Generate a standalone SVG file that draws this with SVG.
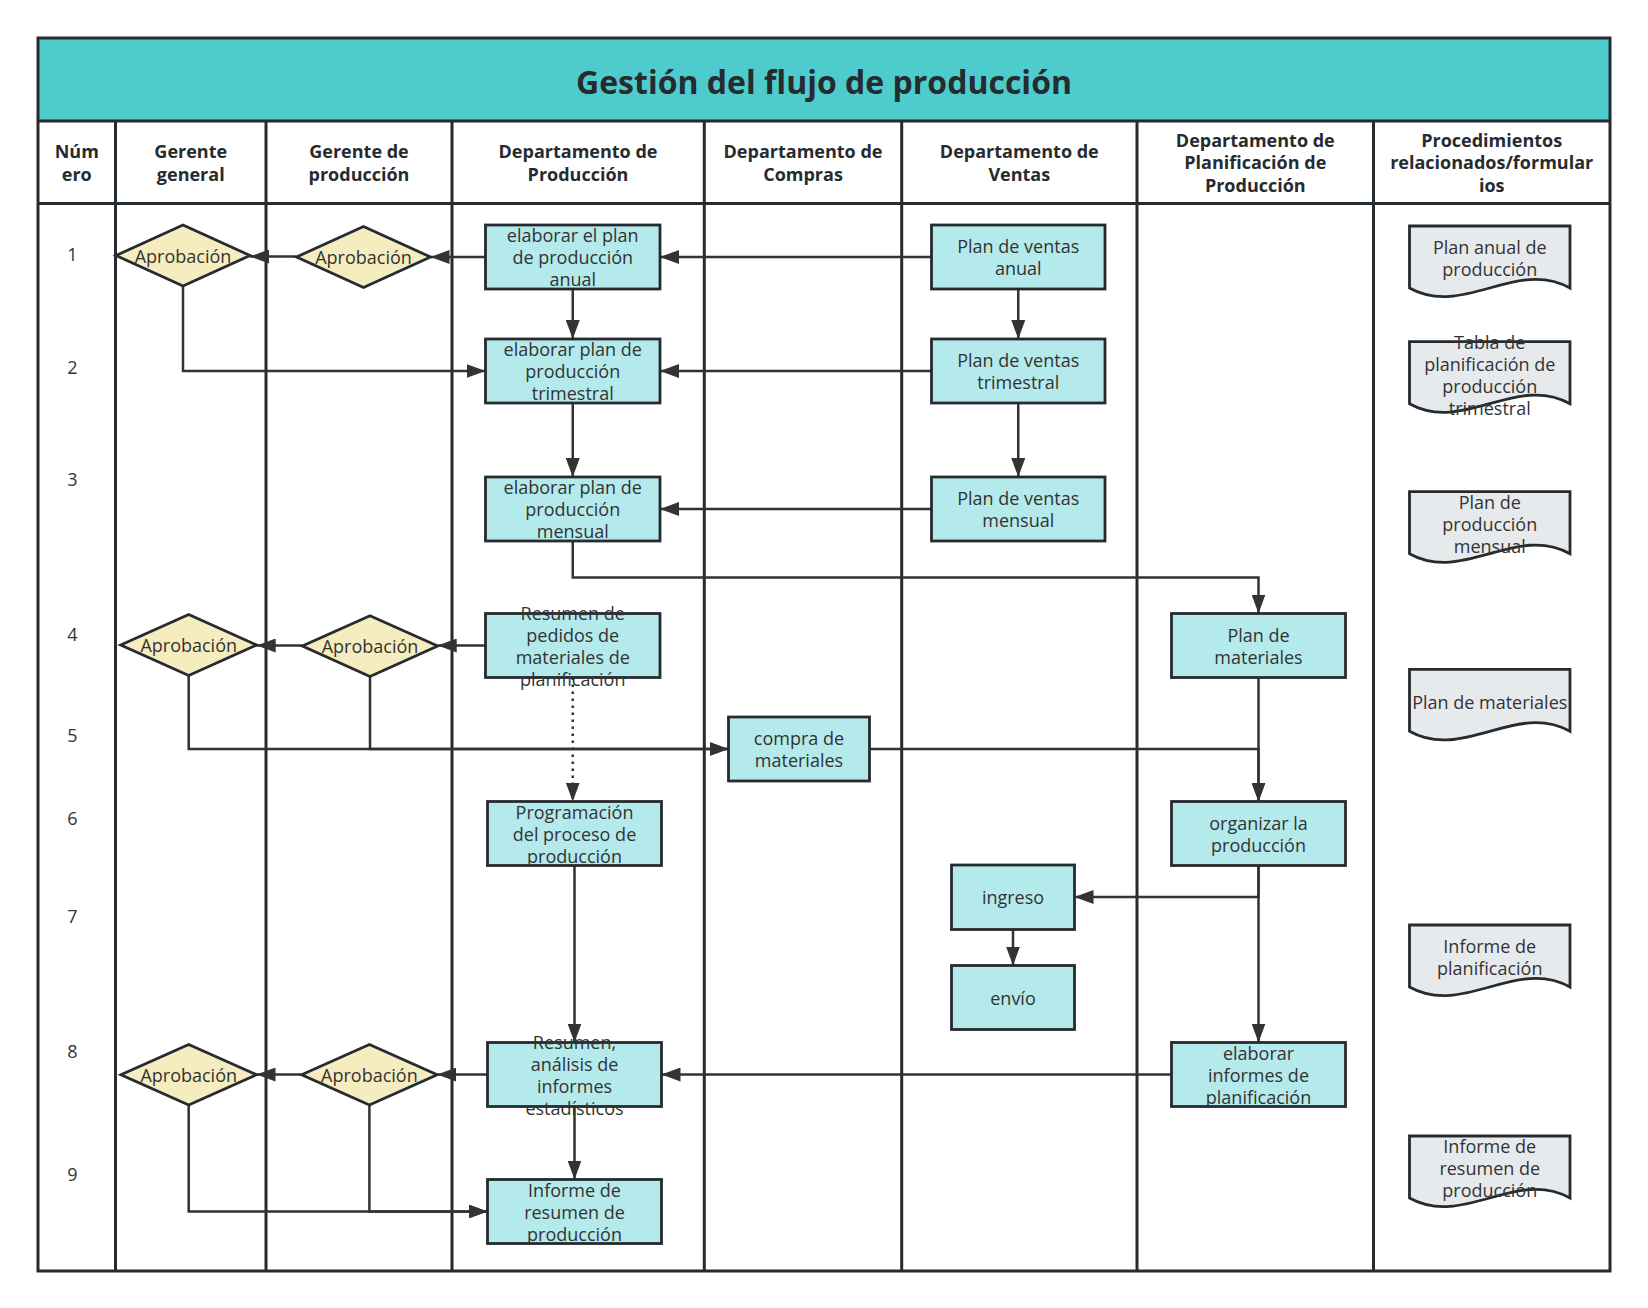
<svg xmlns="http://www.w3.org/2000/svg" width="1648" height="1308" viewBox="0 0 1648 1308">
<style>
.lane{stroke:#262B2F;stroke-width:3;fill:none}
.box{fill:#B4EAEB;stroke:#262B2F;stroke-width:2.8}
.dia{fill:#F5ECC0;stroke:#262B2F;stroke-width:2.8}
.doc{fill:#E6EAED;stroke:#262B2F;stroke-width:2.8}
text,tspan{font-family:"Open Sans","Noto Sans",sans-serif;font-size:18px;fill:#333333;text-anchor:middle;dominant-baseline:central}
.h,.h tspan{font-weight:bold;font-size:18px;fill:#262B2F}
.ttl{font-weight:bold;font-size:32px;fill:#262B2F}
.c{stroke:#333333;stroke-width:2.5;fill:none;marker-end:url(#ah)}
.d{stroke:#333333;stroke-width:2.5;fill:none;stroke-dasharray:2.5 4.5;marker-end:url(#ah)}
</style>
<defs>
<marker id="ah" markerUnits="userSpaceOnUse" markerWidth="20" markerHeight="14" refX="19" refY="7" orient="auto"><path d="M0,0 L19,7 L0,14 z" fill="#333333"/></marker>
</defs>
<rect width="1648" height="1308" fill="#ffffff"/>
<g id="frame">
<rect x="38" y="38" width="1572" height="83" fill="#4ECBCD"/>
<text class="ttl" x="824" y="81">Gestión del flujo de producción</text>
<rect class="lane" x="38" y="38" width="1572" height="1233"/>
<line class="lane" x1="38" y1="121" x2="1610" y2="121"/>
<line class="lane" x1="38" y1="203.5" x2="1610" y2="203.5"/>
<line class="lane" x1="115.5" y1="121" x2="115.5" y2="1271"/>
<line class="lane" x1="266" y1="121" x2="266" y2="1271"/>
<line class="lane" x1="452" y1="121" x2="452" y2="1271"/>
<line class="lane" x1="704.3" y1="121" x2="704.3" y2="1271"/>
<line class="lane" x1="901.7" y1="121" x2="901.7" y2="1271"/>
<line class="lane" x1="1137" y1="121" x2="1137" y2="1271"/>
<line class="lane" x1="1373.5" y1="121" x2="1373.5" y2="1271"/>
</g>
<g id="headers">
<text class="h"><tspan x="76.75" y="151">Núm</tspan><tspan x="76.75" y="173.5">ero</tspan></text>
<text class="h"><tspan x="190.75" y="151">Gerente</tspan><tspan x="190.75" y="173.5">general</tspan></text>
<text class="h"><tspan x="359" y="151">Gerente de</tspan><tspan x="359" y="173.5">producción</tspan></text>
<text class="h"><tspan x="578" y="151">Departamento de</tspan><tspan x="578" y="173.5">Producción</tspan></text>
<text class="h"><tspan x="803" y="151">Departamento de</tspan><tspan x="803" y="173.5">Compras</tspan></text>
<text class="h"><tspan x="1019.3" y="151">Departamento de</tspan><tspan x="1019.3" y="173.5">Ventas</tspan></text>
<text class="h"><tspan x="1255.3" y="139.5">Departamento de</tspan><tspan x="1255.3" y="162">Planificación de</tspan><tspan x="1255.3" y="184.5">Producción</tspan></text>
<text class="h"><tspan x="1491.7" y="139.5">Procedimientos</tspan><tspan x="1491.7" y="162">relacionados/formular</tspan><tspan x="1491.7" y="184.5">ios</tspan></text>
</g>
<g id="rownums">
<text x="72.5" y="254.3">1</text>
<text x="72.5" y="366.8">2</text>
<text x="72.5" y="479.3">3</text>
<text x="72.5" y="633.8">4</text>
<text x="72.5" y="734.7">5</text>
<text x="72.5" y="817.7">6</text>
<text x="72.5" y="915.5">7</text>
<text x="72.5" y="1051">8</text>
<text x="72.5" y="1174">9</text>
</g>
<g id="connectors">
<path class="c" d="M931.5,257 H660"/>
<path class="c" d="M485.5,257 H430.5"/>
<path class="c" d="M296.5,256.5 H250"/>
<path class="c" d="M183,286 V371 H485.5"/>
<path class="c" d="M572.75,289 V339"/>
<path class="c" d="M1018.25,289 V339"/>
<path class="c" d="M931.5,371 H660"/>
<path class="c" d="M572.75,403 V477"/>
<path class="c" d="M1018.25,403 V477"/>
<path class="c" d="M931.5,509 H660"/>
<path class="c" d="M572.75,541 V577.5 H1258.5 V613.5"/>
<path class="c" d="M485.5,645.5 H437.7"/>
<path class="c" d="M302.3,645.5 H256.7"/>
<path class="c" d="M188.7,675.3 V749 H728.5"/>
<path class="c" d="M370,676.7 V749 H728.5"/>
<path class="d" d="M572.75,677.5 V801.5"/>
<path class="c" d="M1258.5,677.5 V801.5"/>
<path class="c" d="M869.5,749 H1258.5 V801.5"/>
<path class="c" d="M1258.5,865.5 V897 H1074.5"/>
<path class="c" d="M1258.5,865.5 V1042.5"/>
<path class="c" d="M1013,929.5 V965.5"/>
<path class="c" d="M574.5,865.5 V1042.5"/>
<path class="c" d="M1171.5,1074.5 H661.5"/>
<path class="c" d="M487.5,1074.5 H437.2"/>
<path class="c" d="M301.6,1074.5 H256.5"/>
<path class="c" d="M574.5,1106.5 V1179.5"/>
<path class="c" d="M188.7,1104.7 V1211.5 H487.5"/>
<path class="c" d="M369.4,1104.7 V1211.5 H487.5"/>
</g>
<g id="gg1"><path class="dia" d="M116,255.5 L183,225 L250,255.5 L183,286 Z"/><text x="183" y="255.5">Aprobación</text></g>
<g id="gp1"><path class="dia" d="M296.5,257 L363.5,226.5 L430.5,257 L363.5,287.5 Z"/><text x="363.5" y="257">Aprobación</text></g>
<g id="gg4"><path class="dia" d="M120.7,645 L188.7,614.5 L256.7,645 L188.7,675.5 Z"/><text x="188.7" y="645">Aprobación</text></g>
<g id="gp4"><path class="dia" d="M302.3,646 L370,615.7 L437.7,646 L370,676.5 Z"/><text x="370" y="646">Aprobación</text></g>
<g id="gg8"><path class="dia" d="M120.9,1074.7 L188.7,1044.5 L256.5,1074.7 L188.7,1105 Z"/><text x="188.7" y="1074.7">Aprobación</text></g>
<g id="gp8"><path class="dia" d="M301.6,1074.7 L369.4,1044.5 L437.2,1074.7 L369.4,1105 Z"/><text x="369.4" y="1074.7">Aprobación</text></g>
<g id="r1"><rect class="box" x="485.5" y="225" width="174.5" height="64"/><text><tspan x="572.75" y="235">elaborar el plan</tspan><tspan x="572.75" y="257">de producción</tspan><tspan x="572.75" y="279">anual</tspan></text></g>
<g id="r2"><rect class="box" x="485.5" y="339" width="174.5" height="64"/><text><tspan x="572.75" y="349">elaborar plan de</tspan><tspan x="572.75" y="371">producción</tspan><tspan x="572.75" y="393">trimestral</tspan></text></g>
<g id="r3"><rect class="box" x="485.5" y="477" width="174.5" height="64"/><text><tspan x="572.75" y="487">elaborar plan de</tspan><tspan x="572.75" y="509">producción</tspan><tspan x="572.75" y="531">mensual</tspan></text></g>
<g id="r4"><rect class="box" x="485.5" y="613.5" width="174.5" height="64"/><text><tspan x="572.75" y="612.5">Resumen de</tspan><tspan x="572.75" y="634.5">pedidos de</tspan><tspan x="572.75" y="656.5">materiales de</tspan><tspan x="572.75" y="678.5">planificación</tspan></text></g>
<g id="r6"><rect class="box" x="487.5" y="801.5" width="174" height="64"/><text><tspan x="574.5" y="811.5">Programación</tspan><tspan x="574.5" y="833.5">del proceso de</tspan><tspan x="574.5" y="855.5">producción</tspan></text></g>
<g id="r8"><rect class="box" x="487.5" y="1042.5" width="174" height="64"/><text><tspan x="574.5" y="1041.5">Resumen,</tspan><tspan x="574.5" y="1063.5">análisis de</tspan><tspan x="574.5" y="1085.5">informes</tspan><tspan x="574.5" y="1107.5">estadísticos</tspan></text></g>
<g id="r9"><rect class="box" x="487.5" y="1179.5" width="174" height="64"/><text><tspan x="574.5" y="1189.5">Informe de</tspan><tspan x="574.5" y="1211.5">resumen de</tspan><tspan x="574.5" y="1233.5">producción</tspan></text></g>
<g id="compra"><rect class="box" x="728.5" y="717" width="141" height="64"/><text><tspan x="799" y="738">compra de</tspan><tspan x="799" y="760">materiales</tspan></text></g>
<g id="v1"><rect class="box" x="931.5" y="225" width="173.5" height="64"/><text><tspan x="1018.25" y="246">Plan de ventas</tspan><tspan x="1018.25" y="268">anual</tspan></text></g>
<g id="v2"><rect class="box" x="931.5" y="339" width="173.5" height="64"/><text><tspan x="1018.25" y="360">Plan de ventas</tspan><tspan x="1018.25" y="382">trimestral</tspan></text></g>
<g id="v3"><rect class="box" x="931.5" y="477" width="173.5" height="64"/><text><tspan x="1018.25" y="498">Plan de ventas</tspan><tspan x="1018.25" y="520">mensual</tspan></text></g>
<g id="ingreso"><rect class="box" x="951.5" y="865" width="123" height="64.5"/><text x="1013" y="897">ingreso</text></g>
<g id="envio"><rect class="box" x="951.5" y="965.5" width="123" height="64"/><text x="1013" y="997.5">envío</text></g>
<g id="p1"><rect class="box" x="1171.5" y="613.5" width="174" height="64"/><text><tspan x="1258.5" y="634.5">Plan de</tspan><tspan x="1258.5" y="656.5">materiales</tspan></text></g>
<g id="p2"><rect class="box" x="1171.5" y="801.5" width="174" height="64"/><text><tspan x="1258.5" y="822.5">organizar la</tspan><tspan x="1258.5" y="844.5">producción</tspan></text></g>
<g id="p3"><rect class="box" x="1171.5" y="1042.5" width="174" height="64"/><text><tspan x="1258.5" y="1052.5">elaborar</tspan><tspan x="1258.5" y="1074.5">informes de</tspan><tspan x="1258.5" y="1096.5">planificación</tspan></text></g>
<g id="d1"><path class="doc" d="M1409.5,226 H1570 V288 C1516.5,258 1463,318 1409.5,288 Z"/><text><tspan x="1489.75" y="247">Plan anual de</tspan><tspan x="1489.75" y="269">producción</tspan></text></g>
<g id="d2"><path class="doc" d="M1409.5,341.7 H1570 V403.7 C1516.5,373.7 1463,433.7 1409.5,403.7 Z"/><text><tspan x="1489.75" y="341.7">Tabla de</tspan><tspan x="1489.75" y="363.7">planificación de</tspan><tspan x="1489.75" y="385.7">producción</tspan><tspan x="1489.75" y="407.7">trimestral</tspan></text></g>
<g id="d3"><path class="doc" d="M1409.5,491.7 H1570 V553.7 C1516.5,523.7 1463,583.7 1409.5,553.7 Z"/><text><tspan x="1489.75" y="501.7">Plan de</tspan><tspan x="1489.75" y="523.7">producción</tspan><tspan x="1489.75" y="545.7">mensual</tspan></text></g>
<g id="d4"><path class="doc" d="M1409.5,669.3 H1570 V731.3 C1516.5,701.3 1463,761.3 1409.5,731.3 Z"/><text x="1489.75" y="701.5">Plan de materiales</text></g>
<g id="d5"><path class="doc" d="M1409.5,925 H1570 V987 C1516.5,957 1463,1017 1409.5,987 Z"/><text><tspan x="1489.75" y="946">Informe de</tspan><tspan x="1489.75" y="968">planificación</tspan></text></g>
<g id="d6"><path class="doc" d="M1409.5,1136 H1570 V1198 C1516.5,1168 1463,1228 1409.5,1198 Z"/><text><tspan x="1489.75" y="1146">Informe de</tspan><tspan x="1489.75" y="1168">resumen de</tspan><tspan x="1489.75" y="1190">producción</tspan></text></g>
</svg>
